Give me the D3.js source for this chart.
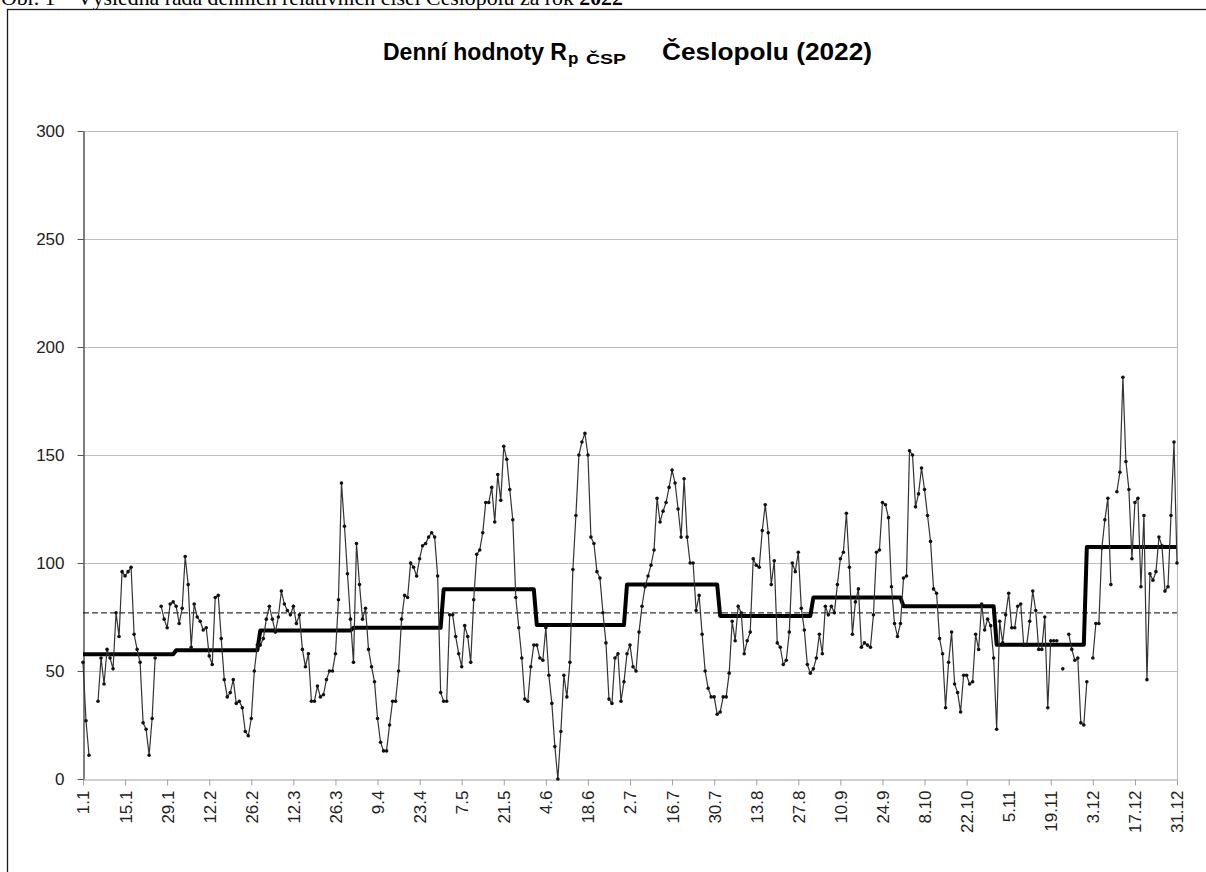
<!DOCTYPE html>
<html>
<head>
<meta charset="utf-8">
<script src="https://cdnjs.cloudflare.com/ajax/libs/d3/7.8.5/d3.min.js"></script>
<style>
  body { margin: 0; background: #fff; }
  svg { display: block; font-family: Arial, "Liberation Sans", sans-serif; }
</style>
</head>
<body>
<div id="chart"></div>
<script>
// daily values, one array per month (null = no observation)
var jan = [54,27,11,null,null,36,56,44,60,56,51,77,66,96,94,96,98,67,60,54,26,23,11,28,56,null,80,74,70,81,82];
var feb = [80,72,79,103,90,61,81,75,73,69,70,57,53,84,85,65,46,38,40,46,35,36,33,22,20,28,50,62];
var mar = [62,65,74,80,74,68,75,87,81,78,76,80,72,76,60,52,58,36,36,43,38,39,46,50,50,58,83,137,117,95,74];
var apr = [54,109,90,74,79,60,52,45,28,17,13,13,25,36,36,50,74,85,84,100,98,94,102,108,109,112,114,112,94,40];
var may = [36,36,76,76,66,58,52,71,66,54,83,104,106,114,128,128,135,119,141,129,154,148,134,120,84,70,56,37,36,52,62];
var jun = [62,56,55,70,48,35,15,0,22,48,38,54,97,122,150,156,160,150,112,109,96,93,77,63,37,35,56,58,36,45];
var jul = [58,62,52,50,68,80,89,94,99,106,130,119,124,128,135,143,137,125,112,139,112,100,100,78,85,67,50,42,38,38,30];
var aug = [31,38,38,49,73,64,80,77,58,64,68,102,99,98,115,127,114,90,101,63,61,53,55,68,100,96,105,79,69,53,49];
var sep = [51,56,67,58,80,76,80,77,90,102,105,123,98,67,82,88,61,63,62,61,76,105,106,128,127,121,89,72,66,72];
var oct = [93,94,152,150,126,132,144,134,122,110,88,86,65,58,33,54,68,44,40,31,48,48,44,45,67,60,81,69,74,71,56];
var nov = [23,73,63,76,86,70,70,80,81,62,62,73,87,78,60,60,75,33,64,64,64,null,51,null,67,60,55,56,26,25];
var dec = [45,null,56,72,72,107,120,130,90,null,133,142,186,147,134,102,128,130,89,122,46,95,92,96,112,108,87,89,122,156,100];

var monthlyMean = [57.7, 59.6, 68.8, 70.0, 87.8, 71.3, 90.1, 75.5, 84.0, 80.0, 62.2, 107.4];
var yearlyMean = 76.9;

var tickLabels = ["1.1","15.1","29.1","12.2","26.2","12.3","26.3","9.4","23.4","7.5","21.5","4.6","18.6",
  "2.7","16.7","30.7","13.8","27.8","10.9","24.9","8.10","22.10","5.11","19.11","3.12","17.12","31.12"];
var yTicks = [0, 50, 100, 150, 200, 250, 300];

var months = [jan, feb, mar, apr, may, jun, jul, aug, sep, oct, nov, dec];

var W = 1206, H = 872;
var margin = { top: 131, right: 29, bottom: 93, left: 83 },
  width = W - margin.left - margin.right,
  height = H - margin.top - margin.bottom;

// flatten into day series + monthly step series
var daily = [], steps = [];
months.forEach(function(m, mi) {
  m.forEach(function(v) {
    var i = daily.length;
    daily.push({ day: i, value: v });
    steps.push({ day: i, value: monthlyMean[mi] });
  });
});

var x = d3.scaleLinear().domain([0, daily.length - 1]).range([0, width]);
var y = d3.scaleLinear().domain([0, 300]).range([height, 0]);

var svg = d3.select("#chart").append("svg")
  .attr("width", W)
  .attr("height", H);

svg.append("rect").attr("width", W).attr("height", H).attr("fill", "#fff");

// caption above the frame, cut by the page top
svg.append("text")
  .attr("x", 1)
  .attr("y", 5)
  .attr("font-family", "'Liberation Serif', 'Times New Roman', serif")
  .attr("font-size", 21.8)
  .attr("fill", "#000")
  .text("Obr. 1 – Výsledná řada denních relativních čísel Česlopolu za rok ")
  .append("tspan")
  .attr("font-weight", "bold")
  .text("2022");

// outer frame
svg.append("rect")
  .attr("x", 7.5).attr("y", 9.5)
  .attr("width", W + 20).attr("height", H + 20)
  .attr("fill", "none")
  .attr("stroke", "#1a1a1a")
  .attr("stroke-width", 1.3);

// title
var title = svg.append("g")
  .attr("font-weight", "bold")
  .attr("fill", "#000");
title.append("text").attr("x", 383).attr("y", 60).attr("font-size", 23)
  .text("Denní hodnoty R");
title.append("text").attr("x", 568).attr("y", 64).attr("font-size", 17)
  .text("p");
title.append("text").attr("x", 586).attr("y", 64).attr("font-size", 15)
  .attr("textLength", 40).attr("lengthAdjust", "spacingAndGlyphs")
  .text("ČSP");
title.append("text").attr("x", 662).attr("y", 60).attr("font-size", 24)
  .attr("textLength", 210).attr("lengthAdjust", "spacingAndGlyphs")
  .text("Česlopolu (2022)");

var g = svg.append("g")
  .attr("transform", "translate(" + margin.left + "," + margin.top + ")");

// gridlines
g.selectAll(".grid")
  .data(yTicks.filter(function(d) { return d > 0; }))
  .enter().append("line")
  .attr("x1", 0).attr("x2", width)
  .attr("y1", function(d) { return y(d) + 0.5; })
  .attr("y2", function(d) { return y(d) + 0.5; })
  .attr("stroke", "#c0c0c0")
  .attr("stroke-width", 1);

// right border of plot area
g.append("line")
  .attr("x1", width + 0.5).attr("x2", width + 0.5)
  .attr("y1", 0).attr("y2", height)
  .attr("stroke", "#b8b8b8");

// x axis
var xAxis = g.append("g")
  .attr("transform", "translate(0," + (height + 0.5) + ")")
  .call(d3.axisBottom(x)
    .tickValues(tickLabels.map(function(d, i) { return i * 14; }))
    .tickFormat(function(d, i) { return tickLabels[i]; })
    .tickSize(6)
    .tickSizeOuter(0));
xAxis.select(".domain").attr("stroke", "#a0a0a0");
xAxis.selectAll(".tick line").attr("stroke", "#a0a0a0");
xAxis.selectAll(".tick text")
  .attr("transform", "rotate(-90)")
  .attr("text-anchor", "end")
  .attr("x", -11)
  .attr("y", 0)
  .attr("dy", "0.35em")
  .attr("font-size", 17)
  .attr("font-family", "Arial, 'Liberation Sans', sans-serif")
  .attr("fill", "#222");

// y axis
var yAxis = g.append("g")
  .attr("transform", "translate(0.5,0)")
  .call(d3.axisLeft(y)
    .tickValues(yTicks)
    .tickSize(6)
    .tickSizeOuter(0)
    .tickPadding(13));
yAxis.select(".domain").attr("stroke", "#555").attr("stroke-width", 1.5);
yAxis.selectAll(".tick line").attr("stroke", "#555");
yAxis.selectAll(".tick text")
  .attr("font-size", 17)
  .attr("font-family", "Arial, 'Liberation Sans', sans-serif")
  .attr("fill", "#222");

// yearly mean (dashed)
g.append("line")
  .attr("x1", 0).attr("x2", width)
  .attr("y1", y(yearlyMean)).attr("y2", y(yearlyMean))
  .attr("stroke", "#000")
  .attr("stroke-width", 1)
  .attr("stroke-dasharray", "6,3");

// monthly mean step line
var stepLine = d3.line()
  .x(function(d) { return x(d.day); })
  .y(function(d) { return y(d.value); });

g.append("path")
  .datum(steps)
  .attr("fill", "none")
  .attr("stroke", "#000")
  .attr("stroke-width", 4)
  .attr("stroke-linejoin", "round")
  .attr("d", stepLine);

// daily values
var valueline = d3.line()
  .defined(function(d) { return d.value != null; })
  .x(function(d) { return x(d.day); })
  .y(function(d) { return y(d.value); });

g.append("path")
  .datum(daily)
  .attr("fill", "none")
  .attr("stroke", "#333")
  .attr("stroke-width", 1.2)
  .attr("d", valueline);

g.selectAll(".dot")
  .data(daily.filter(function(d) { return d.value != null; }))
  .enter().append("circle")
  .attr("r", 1.8)
  .attr("cx", function(d) { return x(d.day); })
  .attr("cy", function(d) { return y(d.value); })
  .attr("fill", "#111");
</script>
</body>
</html>
